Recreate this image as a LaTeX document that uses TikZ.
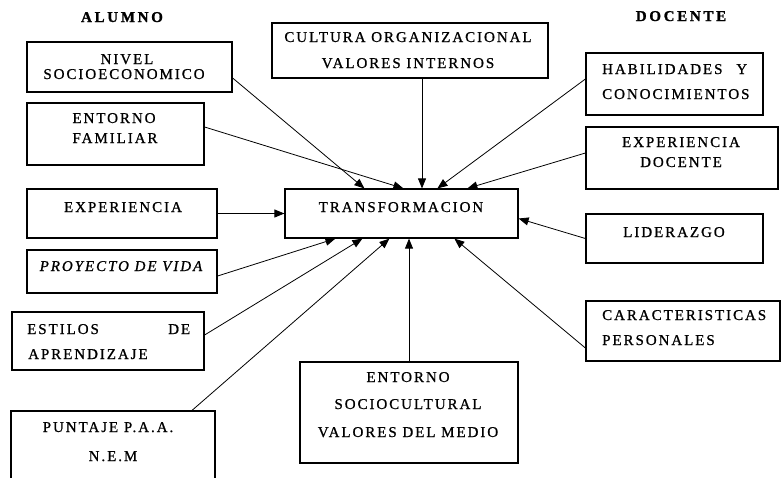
\documentclass[tikz,border=0pt]{standalone}
\usepackage{fontspec}
\setmainfont{Liberation Serif}[LetterSpace=13,FakeBold=0.9]
\newfontfamily\titlefont{Liberation Serif}[LetterSpace=18,FakeBold=1.2]
\usetikzlibrary{arrows.meta,calc}
\tikzset{
  box/.style={draw, line width=1.2pt, inner sep=0pt},
  txt/.style={inner sep=0pt, anchor=base, font=\fontsize{15}{17}\selectfont},
  txtw/.style={inner sep=0pt, anchor=base west, font=\fontsize{15}{17}\selectfont},
  ttl/.style={inner sep=0pt, anchor=base, font=\titlefont\fontsize{15}{17}\selectfont\bfseries},
  arr/.style={line width=0.8pt, -{Triangle[length=10pt,width=8pt]}}
}
\begin{document}
\begin{tikzpicture}[x=1pt,y=-1pt]
\useasboundingbox (0,0) rectangle (781,477);
\clip (0,0) rectangle (781,477);
% titles
\node[ttl] (alumno) at (122,22) {ALUMNO};
\node[ttl] (docente) at (681,21) {DOCENTE};
% boxes
\node[box, minimum width=205pt, minimum height=50pt] (nivel) at (129.5,67) {};
\node[box, minimum width=177pt, minimum height=62pt] (fam) at (115.5,134) {};
\node[box, minimum width=276pt, minimum height=55pt] (cult) at (410,50.5) {};
\node[box, minimum width=177pt, minimum height=62pt] (hab) at (674.5,84) {};
\node[box, minimum width=192pt, minimum height=62pt] (expd) at (682,158) {};
\node[box, minimum width=177pt, minimum height=49pt] (lid) at (674.5,238.5) {};
\node[box, minimum width=194pt, minimum height=60pt] (car) at (683,331) {};
\node[box, minimum width=190pt, minimum height=49pt] (exp) at (122,213.5) {};
\node[box, minimum width=233pt, minimum height=49pt] (trans) at (401.5,213.5) {};
\node[box, minimum width=190pt, minimum height=43pt] (proy) at (122,271.5) {};
\node[box, minimum width=192pt, minimum height=58pt] (est) at (108,341) {};
\node[box, minimum width=204pt, minimum height=80pt] (punt) at (113,451) {};
\node[box, minimum width=218pt, minimum height=101pt] (soc) at (409,412.5) {};
% texts
\node[txt] (nivelA) at (127,64) {NIVEL};
\node[txt] (nivelB) at (124,79) {SOCIOECONOMICO};
\node[txt] (famA) at (114,123) {ENTORNO};
\node[txt] (famB) at (115,143) {FAMILIAR};
\node[txt] (cultA) at (408,42) {CULTURA ORGANIZACIONAL};
\node[txt] (cultB) at (408,68) {VALORES INTERNOS};
\node[txtw] (habA) at (602,74) {\makebox[145pt][l]{HABILIDADES\hfill Y}};
\node[txtw] (habB) at (602,99) {CONOCIMIENTOS};
\node[txt] (expdA) at (681,147) {EXPERIENCIA};
\node[txt] (expdB) at (681,167) {DOCENTE};
\node[txt] (lidA) at (674,237) {LIDERAZGO};
\node[txtw] (carA) at (602,320) {CARACTERISTICAS};
\node[txtw] (carB) at (602,345) {PERSONALES};
\node[txt] (expA) at (123,212) {EXPERIENCIA};
\node[txt] (transA) at (401,212) {TRANSFORMACION};
\node[txt] (proyA) at (121,271) {\itshape PROYECTO DE VIDA};
\node[txtw] (estA) at (27,334) {\makebox[163pt][l]{ESTILOS\hfill DE}};
\node[txtw] (estB) at (28,359) {APRENDIZAJE};
\node[txt] (puntA) at (108,432) {PUNTAJE P.A.A.};
\node[txt] (puntB) at (113,461) {N.E.M};
\node[txt] (socA) at (408,382) {ENTORNO};
\node[txt] (socB) at (408,409) {SOCIOCULTURAL};
\node[txt] (socC) at (408,437) {VALORES DEL MEDIO};
% end points on TRANSFORMACION
\coordinate (tn1) at ([xshift=80pt]trans.north west);
\coordinate (tn2) at ([xshift=119pt]trans.north west);
\coordinate (tn4) at ([xshift=153pt]trans.north west);
\coordinate (tn5) at ([xshift=183pt]trans.north west);
\coordinate (te1) at ([yshift=-5pt]trans.east);
\coordinate (ts1) at ([xshift=51pt]trans.south west);
\coordinate (ts2) at ([xshift=78pt]trans.south west);
\coordinate (ts3) at ([xshift=105pt]trans.south west);
\coordinate (ts5) at ([xshift=170pt]trans.south west);
% connectors
\draw[arr] ([yshift=-11pt]nivel.east) -- (tn1);
\draw[arr] ([yshift=7pt]fam.east) -- (tn2);
\draw[arr] ([xshift=12pt]cult.south) -- ([xshift=12pt]cult.south |- trans.north);
\draw[arr] ([yshift=5pt]hab.west) -- (tn4);
\draw[arr] ([yshift=5pt]expd.west) -- (tn5);
\draw[arr] (lid.west) -- (te1);
\draw[arr] ([yshift=-17pt]car.west) -- (ts5);
\draw[arr] (exp.east) -- (trans.west);
\draw[arr] ([yshift=-4.5pt]proy.east) -- (ts1);
\draw[arr] ([yshift=6pt]est.east) -- (ts2);
\draw[arr] ([xshift=79pt]punt.north) -- (ts3);
\draw[arr] (soc.north) -- (soc.north |- trans.south);
\end{tikzpicture}
\end{document}
